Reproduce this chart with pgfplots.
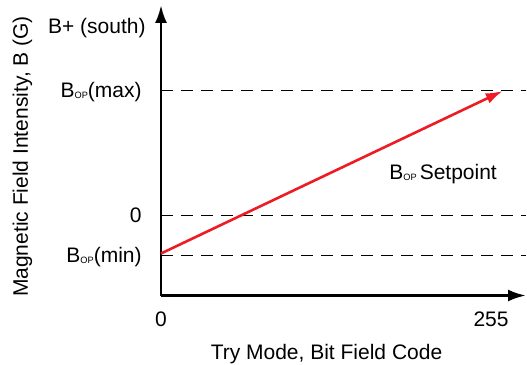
\documentclass[border=0pt]{standalone}
\usepackage{fontspec}
\setmainfont{Liberation Sans}
\usepackage{pgfplots}
\pgfplotsset{compat=1.18}
\usetikzlibrary{arrows.meta}
\definecolor{tired}{RGB}{237,28,36}
\newcommand{\sub}[1]{\raisebox{-0.8pt}{\fontsize{4.6}{5}\selectfont #1}}
\begin{document}
\fontsize{10.5}{12.6}\selectfont
\begin{tikzpicture}
\begin{axis}[
  scale only axis,
  width=182.5pt, height=145.25pt,
  xmin=0, xmax=282, ymin=-80, ymax=210.5,
  axis x line=bottom, axis y line=left,
  axis line style={line width=1.4pt, -{Latex[length=9pt,width=6pt]}},
  clip=false,
  xtick={0,255}, xticklabels={0,255},
  ytick={-40,0,125},
  yticklabels={B\sub{OP}(min),0,B\sub{OP}(max)},
  major tick length=0pt,
  tick style={draw=none},
  /pgf/number format/assume math mode=true,
  every tick label/.append style={inner sep=0pt, font=\fontsize{10.5}{12.6}\selectfont},
  xticklabel style={anchor=base, yshift=-15.6pt},
  yticklabel style={anchor=base east, xshift=-9.5pt, yshift=-3.3pt},
  xlabel={Try Mode, Bit Field Code},
  ylabel={Magnetic Field Intensity, B (G)},
  label style={font=\fontsize{10.5}{12.6}\selectfont, inner sep=0pt},
  xlabel style={at={(rel axis cs:0.4534,-0.2186)}, anchor=base},
  ylabel style={at={(rel axis cs:-0.3644,0.4785)}, anchor=base, rotate=0},
]
\addplot[black, line width=0.7pt, dash pattern=on 6pt off 4pt] coordinates {(0,125) (282,125)};
\addplot[black, line width=0.7pt, dash pattern=on 6pt off 4pt] coordinates {(0,0) (282,0)};
\addplot[black, line width=0.7pt, dash pattern=on 6pt off 4pt] coordinates {(0,-40) (282,-40)};
\addplot[tired, line width=1.3pt, -{Latex[length=8.5pt,width=5.5pt]}] coordinates {(0,-38) (264,124.5)};
\node[anchor=base east, inner sep=0pt] at (axis cs:-11.6,182) {B+ (south)};
\node[anchor=base west, inner sep=0pt] at (axis cs:176.2,36.5) {B\sub{OP}\hspace{1.5pt}Setpoint};
\coordinate (bl) at (rel axis cs:-0.4411,-0.2358);
\coordinate (tr) at (rel axis cs:1.0027,1.0172);
\end{axis}
\pgfresetboundingbox
\path[use as bounding box] (bl) rectangle (tr);
\end{tikzpicture}
\end{document}
